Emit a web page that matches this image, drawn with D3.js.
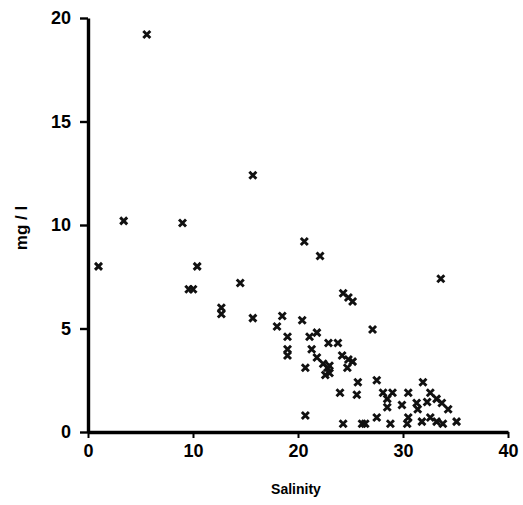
<!DOCTYPE html>
<html>
<head>
<meta charset="utf-8">
<script src="https://cdn.jsdelivr.net/npm/d3@7"></script>
<style>
  html, body { margin: 0; padding: 0; background: #fff; }
  svg { display: block; }
</style>
</head>
<body>
<svg id="chart" width="523" height="505"></svg>
<script>
const xTicks = [0, 10, 20, 30, 40];
const yTicks = [0, 5, 10, 15, 20];
const xTitle = "Salinity";
const yTitle = "mg / l";

const salinity = [
  5.6, 15.7, 3.4, 9.0, 1.0, 10.4, 9.6, 10.0, 14.5, 12.7, 12.7, 15.7,
  20.6, 22.1, 33.6, 24.3, 24.8, 25.2,
  18.5, 18.0, 20.4, 19.0, 21.8, 21.1, 22.9, 23.8, 19.0, 19.0, 21.3, 21.8,
  24.2, 22.4, 23.0, 24.8, 25.2, 24.7, 20.7, 22.8, 22.6, 23.0, 25.7, 24.0,
  25.6, 20.7, 24.3, 26.1, 27.1,
  27.5, 28.1, 29.0, 28.5, 30.5, 28.5, 29.9, 31.3, 31.9, 32.6, 33.2, 32.3,
  33.7, 34.3, 31.4, 30.5, 27.5, 26.4, 28.8, 30.4, 31.8, 32.6, 33.2, 33.8, 35.1
];
const mgl = [
  19.2, 12.4, 10.2, 10.1, 8.0, 8.0, 6.9, 6.9, 7.2, 6.0, 5.7, 5.5,
  9.2, 8.5, 7.4, 6.7, 6.5, 6.3,
  5.6, 5.1, 5.4, 4.6, 4.8, 4.6, 4.3, 4.3, 4.0, 3.7, 4.0, 3.6,
  3.7, 3.3, 3.2, 3.5, 3.4, 3.1, 3.1, 3.1, 2.75, 2.85, 2.4, 1.9,
  1.8, 0.8, 0.4, 0.4, 4.95,
  2.5, 1.9, 1.9, 1.6, 1.9, 1.2, 1.3, 1.4, 2.4, 1.9, 1.6, 1.45,
  1.4, 1.1, 1.1, 0.7, 0.7, 0.4, 0.4, 0.4, 0.5, 0.7, 0.5, 0.4, 0.5
];

const svg = d3.select("#chart");
const x = d3.scaleLinear().domain([0, 40]).range([88, 508]);
const y = d3.scaleLinear().domain([0, 20]).range([432, 18]);
const font = "'Liberation Sans', Arial, sans-serif";

// y axis
const gy = svg.append("g").attr("transform", `translate(${x(0)},0)`)
  .call(d3.axisLeft(y).tickValues(yTicks).tickSize(8).tickSizeOuter(0).tickPadding(9));
gy.select(".domain").attr("stroke", "#000").attr("stroke-width", 3.4);
gy.selectAll(".tick line").attr("stroke", "#000").attr("stroke-width", 2.4);
gy.selectAll(".tick text").attr("font-family", font).attr("font-weight", "bold")
  .attr("font-size", 18).attr("fill", "#000");

// x axis
const gx = svg.append("g").attr("transform", `translate(0,${y(0)})`)
  .call(d3.axisBottom(x).tickValues(xTicks).tickSize(6).tickSizeOuter(0).tickPadding(6));
gx.select(".domain").attr("stroke", "#000").attr("stroke-width", 3.4);
gx.selectAll(".tick line").attr("stroke", "#000").attr("stroke-width", 2);
gx.selectAll(".tick text").attr("font-family", font).attr("font-weight", "bold")
  .attr("font-size", 18).attr("fill", "#000");

// titles
svg.append("text").attr("x", 296).attr("y", 494).attr("text-anchor", "middle")
  .attr("font-family", font).attr("font-weight", "bold").attr("font-size", 14)
  .attr("fill", "#000").text(xTitle);
svg.append("text").attr("transform", "translate(27,228) rotate(-90)")
  .attr("text-anchor", "middle")
  .attr("font-family", font).attr("font-weight", "bold").attr("font-size", 17)
  .attr("fill", "#000").text(yTitle);

// points
const s = 3.5;
svg.append("g").selectAll("path").data(salinity.map((v, i) => [v, mgl[i]]))
  .join("path")
  .attr("transform", d => `translate(${x(d[0])},${y(d[1])})`)
  .attr("d", `M${-s},${-s}L${s},${s}M${s},${-s}L${-s},${s}`)
  .attr("stroke", "#111").attr("stroke-width", 2.9).attr("fill", "none");
</script>
</body>
</html>
